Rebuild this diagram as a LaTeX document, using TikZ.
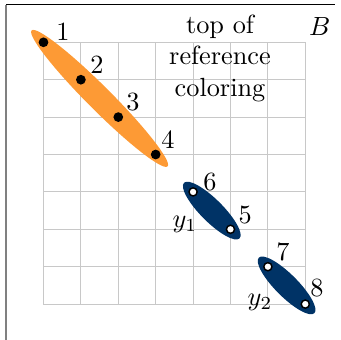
\documentclass[tikz,border=0pt]{standalone}
\usetikzlibrary{calc}
\definecolor{myorange}{RGB}{253,154,53}
\definecolor{myblue}{RGB}{0,51,102}
\definecolor{gridgray}{RGB}{200,200,200}
\tikzset{
  blackdot/.style={circle,fill=black,inner sep=0pt,minimum size=3.7pt},
  whitedot/.style={circle,fill=white,draw=black,line width=0.55pt,inner sep=0pt,minimum size=3.1pt},
  numlabel/.style={inner sep=0pt,font=\normalsize},
}
\begin{document}
\begin{tikzpicture}[x=0.5cm,y=0.5cm]
\useasboundingbox (-1.163,1.131) rectangle (7.955,-7.96);
% frame
\draw[black,line width=0.4pt] (-1,1) -- (7.8,1);
\draw[gray,line width=0.8pt] (-1,1) -- (-1,-8.2);
% grid
\draw[gridgray,line width=0.4pt,step=0.5cm] (0,0) grid (7,-7);
% text
\node[align=center,inner sep=0pt] (title) at (4.72,-0.42) {top of\\reference\\coloring};
\node[inner sep=0pt] (B) at (7.39,0.41) {$B$};
% shapes
\fill[myorange,rotate around={-45:(1.5,-1.5)}] (1.5,-1.5) ellipse (2.57 and 0.32);
\fill[myblue,rotate around={-45:(4.5,-4.5)}] (4.5,-4.5) ellipse (1.05 and 0.3);
\fill[myblue,rotate around={-45:(6.5,-6.5)}] (6.5,-6.5) ellipse (1.05 and 0.3);
% points
\node[blackdot] (p1) at (0,0) {};
\node[blackdot] (p2) at (1,-1) {};
\node[blackdot] (p3) at (2,-2) {};
\node[blackdot] (p4) at (3,-3) {};
\node[whitedot] (p6) at (4,-4) {};
\node[whitedot] (p5) at (5,-5) {};
\node[whitedot] (p7) at (6,-6) {};
\node[whitedot] (p8) at (7,-7) {};
% labels
\node[numlabel] (l1) at (0.52,0.28) {1};
\node[numlabel] (l2) at (1.43,-0.61) {2};
\node[numlabel] (l3) at (2.39,-1.60) {3};
\node[numlabel] (l4) at (3.33,-2.61) {4};
\node[numlabel] (l6) at (4.45,-3.74) {6};
\node[numlabel] (l5) at (5.39,-4.62) {5};
\node[numlabel] (l7) at (6.40,-5.61) {7};
\node[numlabel] (l8) at (7.31,-6.57) {8};
\node[inner sep=0pt] (y1) at (3.78,-4.88) {$y_1$};
\node[inner sep=0pt] (y2) at (5.79,-6.95) {$y_2$};
\end{tikzpicture}
\end{document}
